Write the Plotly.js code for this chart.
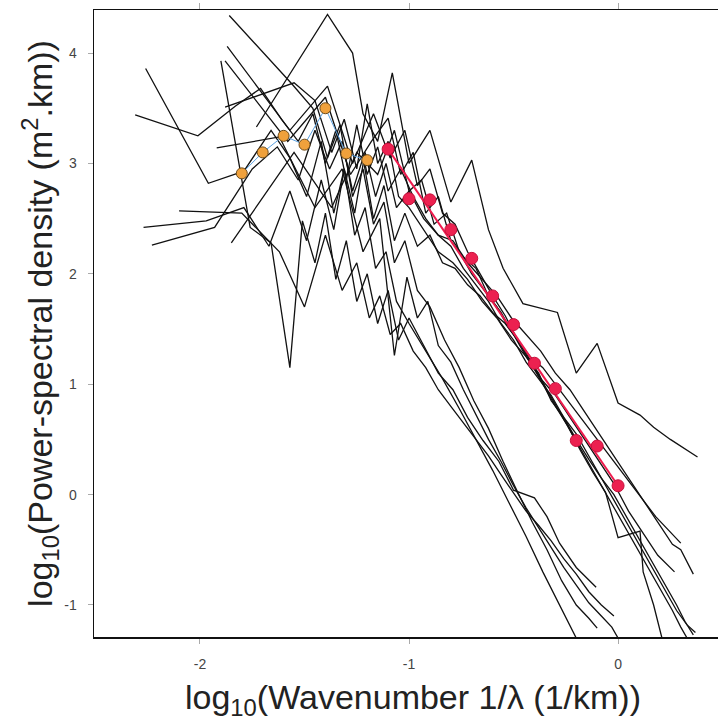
<!DOCTYPE html>
<html>
<head>
<meta charset="utf-8">
<script src="https://cdn.plot.ly/plotly-3.0.1.min.js"></script>
<style>
html,body{margin:0;padding:0;background:#fff;overflow:hidden;width:718px;height:726px;}
#chart{width:732px;height:726px;}
</style>
</head>
<body>
<div id="chart"></div>
<script>
// ---- individual spectra (log10 wavenumber, log10 PSD) ----
const lg1X = [-2.26,-1.96,-1.79,-1.66,-1.57,-1.49,-1.42,-1.36,-1.31,-1.26,-1.21,-1.16,-1.11,-1.06,-1.00,-0.92,-0.84,-0.76,-0.68,-0.60,-0.52,-0.44,-0.36,-0.28,-0.20];
const lg1Y = [3.86,2.82,2.93,3.30,3.05,2.70,3.20,2.55,2.95,2.35,2.60,2.05,2.20,1.75,1.55,1.30,1.05,0.78,0.50,0.22,-0.08,-0.38,-0.70,-1.00,-1.30];

const lg2X = [-1.86,-1.56,-1.46,-1.39,-1.33,-1.27,-1.22,-1.17,-1.12,-1.07,-1.02,-0.96,-0.90,-0.83,-0.76,-0.69,-0.62,-0.55,-0.48,-0.41,-0.34,-0.27,-0.20,-0.14,-0.10];
const lg2Y = [4.34,3.72,3.50,3.05,3.35,2.70,2.95,2.45,2.65,2.10,2.30,1.85,1.70,1.40,1.15,0.85,0.60,0.30,0.02,-0.25,-0.50,-0.78,-1.00,-1.12,-1.21];

const lg3X = [-1.90,-1.76,-1.66,-1.57,-1.51,-1.45,-1.40,-1.35,-1.30,-1.25,-1.20,-1.15,-1.10,-1.05,-1.00,-0.93,-0.86,-0.79,-0.72,-0.646,-0.57,-0.50,-0.40,-0.34,-0.28,-0.20,-0.105];
const lg3Y = [3.93,2.42,2.28,1.15,2.48,2.10,2.55,1.95,2.30,1.75,2.00,1.55,1.85,1.40,1.60,1.35,1.10,0.95,0.70,0.49,0.30,0.04,-0.03,-0.20,-0.44,-0.66,-0.84];

const lg4X = [-1.92,-1.62,-1.45,-1.32,-1.22,-1.14,-1.07,-1.01,-0.96,-0.91,-0.86,-0.80,-0.74,-0.68,-0.62,-0.56,-0.50,-0.44,-0.38,-0.32,-0.26,-0.20,-0.14,-0.08,-0.03,0.00];
const lg4Y = [3.14,3.24,2.60,2.95,2.20,2.50,1.26,1.97,1.60,1.75,1.35,1.20,0.95,0.72,0.50,0.30,0.08,-0.12,-0.30,-0.48,-0.66,-0.82,-0.98,-1.10,-1.20,-1.30];

const lg5X = [-2.10,-1.80,-1.62,-1.50,-1.40,-1.32,-1.25,-1.19,-1.14,-1.09,-1.04,-0.98,-0.92,-0.86,-0.80,-0.74,-0.68,-0.62,-0.56,-0.50,-0.44,-0.38,-0.32,-0.26,-0.20,-0.14,-0.08,-0.02];
const lg5Y = [2.57,2.55,2.20,1.70,2.35,1.85,2.10,1.60,1.80,1.45,1.55,1.30,1.15,0.95,0.80,0.65,0.50,0.35,0.18,0.02,-0.15,-0.28,-0.42,-0.58,-0.72,-0.88,-1.00,-1.10];

const m1X = [-1.87,-1.57,-1.39,-1.27,-1.17,-1.09,-1.02,-0.96,-0.90,-0.84,-0.78,-0.72,-0.66,-0.60,-0.54,-0.48,-0.42,-0.36,-0.30,-0.24,-0.18,-0.12,-0.06,0.00,0.105,0.12,0.17,0.21];
const m1Y = [4.06,3.30,3.70,3.00,3.45,3.05,3.30,2.80,2.95,2.55,2.45,2.20,2.00,1.80,1.62,1.40,1.20,1.00,0.80,0.62,0.40,0.20,0.02,-0.39,-0.33,-0.70,-1.00,-1.30];

const m2X = [-2.31,-2.01,-1.83,-1.71,-1.61,-1.53,-1.46,-1.40,-1.35,-1.30,-1.25,-1.20,-1.15,-1.10,-1.04,-0.98,-0.92,-0.86,-0.80,-0.74,-0.68,-0.62,-0.56,-0.50,-0.44,-0.38,-0.32,-0.26,-0.20,-0.14,-0.08,-0.02,0.04,0.10,0.16,0.22,0.28,0.32,0.36];
const m2Y = [3.44,3.25,3.52,3.68,3.40,3.20,3.45,3.00,3.30,2.85,3.35,2.90,3.15,2.75,2.95,2.70,2.50,2.35,2.25,2.05,1.90,1.75,1.55,1.40,1.20,1.05,0.90,0.70,0.55,0.35,0.15,0.00,-0.20,-0.40,-0.60,-0.80,-1.00,-1.15,-1.27];

const m3X = [-1.88,-1.58,-1.40,-1.28,-1.18,-1.10,-1.04,-0.98,-0.92,-0.86,-0.80,-0.74,-0.68,-0.62,-0.56,-0.50,-0.44,-0.38,-0.32,-0.26,-0.20,-0.14,-0.08,-0.02,0.04,0.10,0.16,0.22,0.28,0.33,0.37];
const m3Y = [3.93,3.20,3.60,2.90,3.20,3.41,2.90,3.10,2.55,2.70,2.30,2.15,2.05,1.80,1.65,1.45,1.25,1.10,0.85,0.70,0.50,0.32,0.15,-0.05,-0.25,-0.45,-0.65,-0.85,-1.05,-1.18,-1.25];

const m4X = [-1.88,-1.55,-1.45,-1.37,-1.31,-1.25,-1.20,-1.15,-1.10,-1.05,-1.00,-0.93,-0.86,-0.79,-0.72,-0.65,-0.58,-0.51,-0.44,-0.37,-0.30,-0.23,-0.16,-0.09,-0.02,0.05,0.12,0.19,0.27];
const m4Y = [3.51,3.73,3.57,3.10,3.40,2.95,3.54,3.00,3.20,2.70,2.60,2.40,2.20,2.10,1.95,1.75,1.60,1.40,1.25,1.05,0.90,0.70,0.50,0.30,0.10,-0.15,-0.35,-0.55,-0.70];

const m5X = [-2.27,-1.97,-1.79,-1.67,-1.57,-1.49,-1.42,-1.36,-1.31,-1.26,-1.21,-1.16,-1.11,-1.06,-1.00,-0.93,-0.86,-0.79,-0.72,-0.65,-0.58,-0.51,-0.44,-0.37,-0.30,-0.23,-0.16,-0.09,-0.02,0.05,0.12,0.19,0.26,0.30,0.36];
const m5Y = [2.42,2.48,2.60,2.25,2.75,2.30,2.85,2.40,2.95,2.55,3.10,2.70,3.00,2.60,2.75,2.50,2.35,2.30,2.10,1.95,1.80,1.60,1.45,1.30,1.10,0.95,0.75,0.55,0.35,0.15,-0.05,-0.25,-0.45,-0.50,-0.72];

const m6X = [-2.23,-1.93,-1.75,-1.63,-1.53,-1.45,-1.38,-1.32,-1.27,-1.22,-1.17,-1.12,-1.07,-1.02,-0.96,-0.90,-0.84,-0.78,-0.72,-0.66,-0.60,-0.54,-0.48,-0.42,-0.36,-0.30,-0.24,-0.18,-0.12,-0.06,0.00,0.06,0.12,0.18,0.24,0.30];
const m6Y = [2.26,2.42,2.95,3.15,2.85,3.30,2.95,3.20,2.75,3.05,2.50,2.80,2.30,2.55,2.25,2.35,2.10,2.05,1.90,1.80,1.65,1.55,1.40,1.25,1.15,1.00,0.85,0.70,0.55,0.40,0.25,0.10,-0.05,-0.20,-0.32,-0.44];

const m7X = [-1.85,-1.55,-1.37,-1.25,-1.15,-1.07,-1.00,-0.94,-0.88,-0.82,-0.76,-0.70,-0.64,-0.58,-0.52,-0.46,-0.40,-0.34,-0.28,-0.22,-0.16,-0.10,-0.04,0.02,0.08,0.14,0.20,0.26,0.30,0.33];
const m7Y = [2.28,3.10,2.60,3.10,2.90,3.30,2.75,2.85,2.45,2.55,2.20,2.00,1.85,1.70,1.50,1.35,1.15,0.95,0.75,0.55,0.35,0.15,-0.05,-0.25,-0.45,-0.65,-0.85,-1.05,-1.20,-1.30];

const oX = [-1.73,-1.39,-1.27,-1.22,-1.15,-1.08,-1.00,-0.90,-0.80,-0.70,-0.62,-0.55,-0.455,-0.29,-0.20,-0.10,0.00,0.105,0.17,0.25,0.38];
const oY = [3.33,4.35,4.00,3.45,3.20,3.82,3.00,3.30,2.65,3.03,2.40,2.05,1.73,1.65,1.10,1.37,0.83,0.72,0.61,0.50,0.34];

// ---- averaged low-wavenumber points (orange) ----
const orangeX = [-1.8,-1.7,-1.6,-1.5,-1.4,-1.3,-1.2];
const orangeY = [2.91,3.10,3.25,3.17,3.50,3.09,3.03];

// ---- averaged high-wavenumber points (red) and fitted line ----
const redX = [-1.1,-1.0,-0.9,-0.8,-0.7,-0.6,-0.5,-0.4,-0.3,-0.2,-0.1,0.0];
const redY = [3.13,2.68,2.67,2.40,2.14,1.80,1.54,1.19,0.96,0.49,0.44,0.08];
const fitX = [-1.1, 0.0];
const fitY = [3.13, 0.08];

const xTickVals = [-2,-1,0];
const xTickText = ["-2","-1","0"];
const yTickVals = [-1,0,1,2,3,4];
const yTickText = ["-1","0","1","2","3","4"];

const spectra = [[lg1X,lg1Y],[lg2X,lg2Y],[lg3X,lg3Y],[lg4X,lg4Y],[lg5X,lg5Y],
  [m1X,m1Y],[m2X,m2Y],[m3X,m3Y],[m4X,m4Y],[m5X,m5Y],[m6X,m6Y],[m7X,m7Y],[oX,oY]];

const traces = spectra.map(s => ({
  x: s[0], y: s[1], type: 'scatter', mode: 'lines',
  line: {color: '#111111', width: 1.3}, hoverinfo: 'skip', showlegend: false
}));
traces.push({x: orangeX, y: orangeY, type: 'scatter', mode: 'lines',
  line: {color: '#5aa0e0', width: 1}, showlegend: false});
traces.push({x: orangeX, y: orangeY, type: 'scatter', mode: 'markers',
  marker: {color: '#f0a13c', size: 11, line: {color: '#6b4a1a', width: 1}}, showlegend: false});
traces.push({x: fitX, y: fitY, type: 'scatter', mode: 'lines',
  line: {color: '#ee1c4e', width: 2}, showlegend: false});
traces.push({x: redX, y: redY, type: 'scatter', mode: 'markers',
  marker: {color: '#ec2150', size: 12, line: {color: '#c8103c', width: 1}}, showlegend: false});
// invisible trace that anchors the top axis
traces.push({x: xTickVals, y: [0,0,0], xaxis: 'x2', yaxis: 'y', type: 'scatter', mode: 'markers',
  marker: {opacity: 0}, hoverinfo: 'skip', showlegend: false});

const layout = {
  width: 732, height: 726,
  margin: {l: 94, r: 0, t: 10, b: 89},
  paper_bgcolor: '#fff', plot_bgcolor: '#fff',
  showlegend: false,
  font: {family: 'Liberation Sans, Arial, sans-serif'},
  xaxis: {
    range: [-2.507, 0.545], showgrid: false, zeroline: false,
    showline: true, linecolor: '#111', linewidth: 1.5,
    ticks: 'outside', ticklen: 5, tickcolor: '#aaa', tickwidth: 1,
    tickvals: xTickVals, ticktext: xTickText, ticklabelstandoff: 9,
    tickfont: {size: 14, color: '#444'},
    title: {text: 'log<sub>10</sub>(Wavenumber 1/λ (1/km))', font: {size: 34, color: '#222'}, standoff: 14}
  },
  xaxis2: {
    overlaying: 'x', side: 'top', anchor: 'y', range: [-2.507, 0.545],
    showgrid: false, zeroline: false, showline: true, linecolor: '#111', linewidth: 1.5,
    ticks: 'outside', ticklen: 6, tickcolor: '#aaa', tickwidth: 1,
    tickvals: xTickVals, showticklabels: false
  },
  yaxis: {
    range: [-1.29, 4.39], showgrid: false, zeroline: false,
    showline: true, linecolor: '#111', linewidth: 1.5,
    ticks: 'outside', ticklen: 5, tickcolor: '#aaa', tickwidth: 1,
    tickvals: yTickVals, ticktext: yTickText, ticklabelstandoff: 8,
    tickfont: {size: 14, color: '#444'},
    title: {text: 'log<sub>10</sub>(Power-spectral density (m<sup>2</sup>.km))', font: {size: 34, color: '#222'}, standoff: 0}
  }
};

Plotly.newPlot('chart', traces, layout, {displayModeBar: false, staticPlot: true});
</script>
</body>
</html>
